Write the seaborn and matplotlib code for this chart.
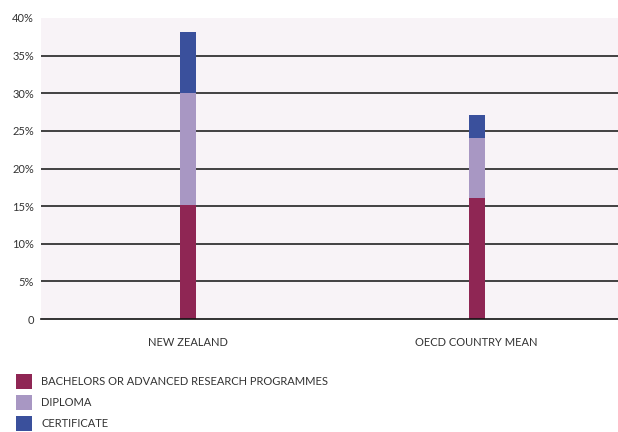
import matplotlib
matplotlib.use("Agg")
import matplotlib.pyplot as plt
import seaborn as sns
import pandas as pd
import numpy as np
from matplotlib.patches import Patch
from matplotlib.ticker import FixedLocator

categories = ["NEW ZEALAND", "OECD COUNTRY MEAN"]
bachelors = [15.1, 16.1]
diploma = [14.9, 7.9]
certificate = [8.1, 3.1]
series_labels = ["BACHELORS OR ADVANCED RESEARCH PROGRAMMES", "DIPLOMA", "CERTIFICATE"]
colors = ["#8f2654", "#a897c3", "#3a509c"]
y_ticks = [0, 5, 10, 15, 20, 25, 30, 35, 40]
y_tick_labels = ["0", "5%", "10%", "15%", "20%", "25%", "30%", "35%", "40%"]

sns.set_style("white")
plt.rcParams["font.family"] = ["Lato", "DejaVu Sans"]

df = pd.DataFrame({
    "category": categories,
    "b": bachelors,
    "bd": np.add(bachelors, diploma),
    "bdc": np.add(np.add(bachelors, diploma), certificate),
})

fig = plt.figure(figsize=(6.18, 4.32), dpi=100)
ax = fig.add_axes([41 / 618, (432 - 319) / 432, 1 - 41 / 618, (319 - 18) / 432])
ax.set_facecolor("#f8f3f7")

bw = 0.055
sns.barplot(data=df, x="category", y="bdc", color=colors[2], width=bw, saturation=1, ax=ax, zorder=3)
sns.barplot(data=df, x="category", y="bd", color=colors[1], width=bw, saturation=1, ax=ax, zorder=3)
sns.barplot(data=df, x="category", y="b", color=colors[0], width=bw, saturation=1, ax=ax, zorder=3)
for p in ax.patches:
    p.set_edgecolor("none")

ax.set_xlim(-0.51, 1.49)
ax.set_ylim(0, 40)
ax.set_xlabel("")
ax.set_ylabel("")

for v in y_ticks[1:-1]:
    ax.axhline(v, color="#111111", lw=1.1, zorder=2)

ax.set_yticks(y_ticks)
ax.set_yticklabels(y_tick_labels)
ax.tick_params(axis="y", length=0, pad=5, labelsize=8, labelcolor="#333333")
ax.tick_params(axis="x", which="major", length=0, pad=13, labelsize=8, labelcolor="#333333")
ax.xaxis.set_minor_locator(FixedLocator([-0.5, 0.5]))
ax.tick_params(axis="x", which="minor", direction="in", length=4, width=1, color="#111111")

for s in ["left", "right", "top"]:
    ax.spines[s].set_visible(False)
ax.spines["bottom"].set_color("#111111")
ax.spines["bottom"].set_linewidth(1.2)
ax.spines["bottom"].set_zorder(4)

handles = [Patch(facecolor=c, edgecolor="none", label=l) for c, l in zip(colors, series_labels)]
fig.legend(handles=handles, loc="upper left", bbox_to_anchor=(16 / 618, 1 - 374 / 432),
           frameon=False, fontsize=8, handlelength=1.45, handleheight=1.7,
           handletextpad=0.8, labelspacing=0.55, borderpad=0, borderaxespad=0,
           labelcolor="#333333")

fig.savefig("out.png", dpi=100)
